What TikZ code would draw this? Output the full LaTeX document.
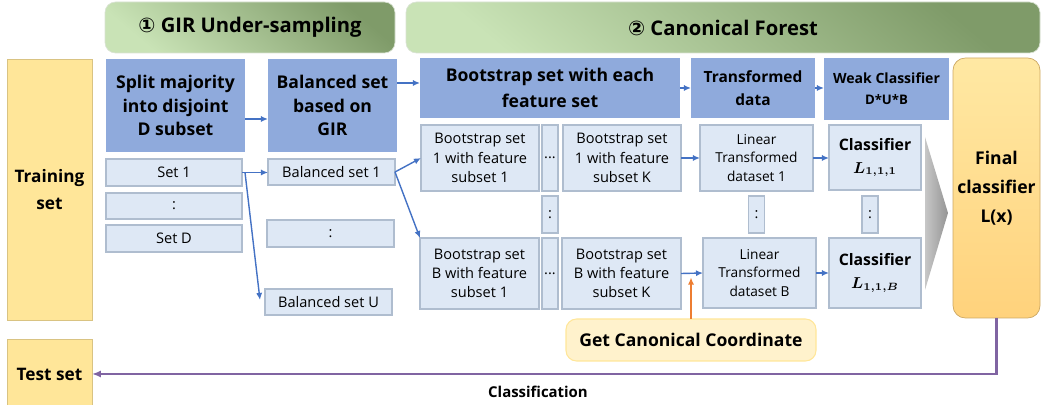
\documentclass[tikz,border=0pt]{standalone}
\usepackage{fontspec}
\setmainfont{Open Sans}
\newfontfamily\symfont{DejaVu Sans}
\usepackage{bm}
\usetikzlibrary{arrows.meta}
\newlength\pxu
\setlength\pxu{0.02cm}
\definecolor{hlight}{HTML}{C9E3B6}
\definecolor{hdark}{HTML}{7F9B69}
\definecolor{sblue}{HTML}{8FAADC}
\definecolor{lblue}{HTML}{DEE8F5}
\definecolor{lborder}{HTML}{AFBDCF}
\definecolor{dyellow}{HTML}{FFE699}
\definecolor{lyellow}{HTML}{FFF2CC}
\definecolor{dorange}{HTML}{FFD27C}
\definecolor{ablue}{HTML}{4472C4}
\definecolor{aorange}{HTML}{ED7D31}
\definecolor{apurple}{HTML}{8064A2}
\tikzset{
  wh/.style 2 args={minimum width=#1\pxu, minimum height=#2\pxu},
  cell/.style={inner sep=0pt, outer sep=0pt, align=center},
  header/.style={cell, rounded corners=6pt, draw=hlight!80!black!40, top color=hdark, bottom color=hlight, shading angle=-40,
    font=\fontsize{11.5}{14}\selectfont\bfseries},
  dataset/.style={cell, fill=dyellow, draw=dyellow!85!black, line width=0.4pt, font=\fontsize{9.8}{15}\selectfont\bfseries},
  stage/.style={cell, fill=sblue, font=\fontsize{10}{13.6}\selectfont\bfseries},
  item/.style={cell, fill=lblue, draw=lborder, line width=0.6pt, font=\fontsize{8.3}{11}\selectfont},
  final/.style={cell, rounded corners=7pt, draw=dorange!80!black, line width=0.4pt, top color=dyellow!90!white, bottom color=dorange,
    font=\fontsize{10}{16.4}\selectfont\bfseries},
  coord/.style={cell, rounded corners=6pt, fill=lyellow, draw=dyellow, line width=0.6pt, font=\fontsize{10}{12}\selectfont\bfseries},
  arrow/.style={-{Latex[length=4pt, width=3.5pt]}, draw=ablue, line width=0.8pt},
}
\begin{document}
\begin{tikzpicture}[x=0.02cm, y=-0.02cm]
  \useasboundingbox (0,0) rectangle (1042,405);
  % stage headers
  \node[header, wh={290}{51}] (gir) at (250,27.5) {{\symfont ①} GIR Under-sampling};
  \node[header, wh={634}{51}] (cf) at (723,27.5) {{\symfont ②} Canonical Forest};
  % training and test data
  \node[dataset, wh={85}{261}] (train) at (49.5,189.5) {Training\\set};
  \node[dataset, wh={85}{70}] (test) at (49.5,374) {Test set};
  % step titles
  \node[stage, wh={139}{93}] (split) at (175.5,105.5) {Split majority\\into disjoint\\D subset};
  \node[stage, wh={129}{93}] (balgir) at (332.5,105.5) {Balanced set\\based on\\GIR};
  \node[stage, wh={260}{60}, font=\fontsize{10}{14.7}\selectfont\bfseries] (boothead) at (550,88) {Bootstrap set with each\\feature set};
  \node[stage, wh={124}{60}, font=\fontsize{8.8}{13}\selectfont\bfseries] (transf) at (753,88) {Transformed\\data};
  \node[stage, wh={125}{62}, font=\fontsize{8}{12}\selectfont\bfseries] (weak) at (886.5,89) {Weak Classifier\\{\fontsize{7.5}{12}\selectfont D*U*B}};
  \node[final, wh={87}{260}] (final) at (996.5,188) {Final\\classifier\\L(x)};
  % subsets
  \node[item, wh={136}{27}] (set1) at (174,172.5) {Set 1};
  \node[item, wh={136}{26}] (setdots) at (174,206) {:};
  \node[item, wh={136}{27}] (setd) at (174,238.5) {Set D};
  \node[item, wh={127}{26}] (bal1) at (331.5,172) {Balanced set 1};
  \node[item, wh={127}{27}] (baldots) at (330.5,233.5) {:};
  \node[item, wh={127}{26}] (balu) at (328.5,302) {Balanced set U};
  % bootstrap sets, first row
  \node[item, wh={118}{66}] (b11) at (480,158) {Bootstrap set\\1 with feature\\subset 1};
  \node[item, wh={16}{66}] (hdots1) at (550,158) {...};
  \node[item, wh={118}{66}] (b1k) at (622,158) {Bootstrap set\\1 with feature\\subset K};
  \node[item, wh={113}{66}, font=\fontsize{7.8}{10.5}\selectfont] (lin1) at (756.5,158) {Linear\\Transformed\\dataset 1};
  \node[item, wh={92}{65}, font=\fontsize{9}{13}\selectfont\bfseries] (cls1) at (875,157.5) {Classifier\\$\bm{L_{1,1,1}}$};
  % vertical dots
  \node[item, wh={16}{37}] (vdots1) at (550,214.5) {:};
  \node[item, wh={16}{37}] (vdots2) at (756.5,214.5) {:};
  \node[item, wh={16}{37}] (vdots3) at (870,214.5) {:};
  % bootstrap sets, last row
  \node[item, wh={119}{71}] (bb1) at (479.5,273.5) {Bootstrap set\\B with feature\\subset 1};
  \node[item, wh={16}{71}] (hdotsb) at (550,273.5) {...};
  \node[item, wh={119}{71}] (bbk) at (621.5,273.5) {Bootstrap set\\B with feature\\subset K};
  \node[item, wh={113}{70}, font=\fontsize{7.8}{10.5}\selectfont] (linb) at (759.5,273) {Linear\\Transformed\\dataset B};
  \node[item, wh={92}{70}, font=\fontsize{9}{13}\selectfont\bfseries] (clsb) at (875,273) {Classifier\\$\bm{L_{1,1,B}}$};
  \node[coord, wh={250}{42}] (canon) at (691,340) {Get Canonical Coordinate};
  % vote funnel
  \shade[left color=black!22, right color=black!42] (925,137) -- (948,213) -- (925,290) -- cycle;
  % flow
  \draw[arrow] (split.east |- 0,119) -- (balgir.west |- 0,119);
  \draw[arrow] (balgir.east |- 0,83) -- (boothead.west |- 0,83);
  \draw[arrow] (boothead.east) -- (transf.west);
  \draw[arrow] (transf.east) -- (weak.west |- transf.east);
  \draw[arrow] (set1.east) -- (bal1.west |- set1.east);
  \draw[arrow] ([xshift=3\pxu]set1.east) -- ([xshift=-5\pxu, yshift=2\pxu]balu.west);
  \draw[arrow] (bal1.east) -- (b11.west);
  \draw[arrow] (bal1.east) -- (bb1.north west);
  \draw[arrow] (b1k.east) -- (lin1.west);
  \draw[arrow] (lin1.east) -- (cls1.west |- lin1.east);
  \draw[arrow] (bbk.east) -- (linb.west);
  \draw[arrow] (linb.east) -- (clsb.west |- linb.east);
  \draw[arrow, draw=aorange] (canon.north) -- ([yshift=-4\pxu]canon.north |- bbk.east);
  \draw[-{Latex[length=5pt, width=4pt]}, apurple, line width=1.2pt] (final.south) |- (test.east);
  \node[font=\fontsize{8.5}{10}\selectfont\bfseries] (classlbl) at (538,392) {Classification};
\end{tikzpicture}
\end{document}
